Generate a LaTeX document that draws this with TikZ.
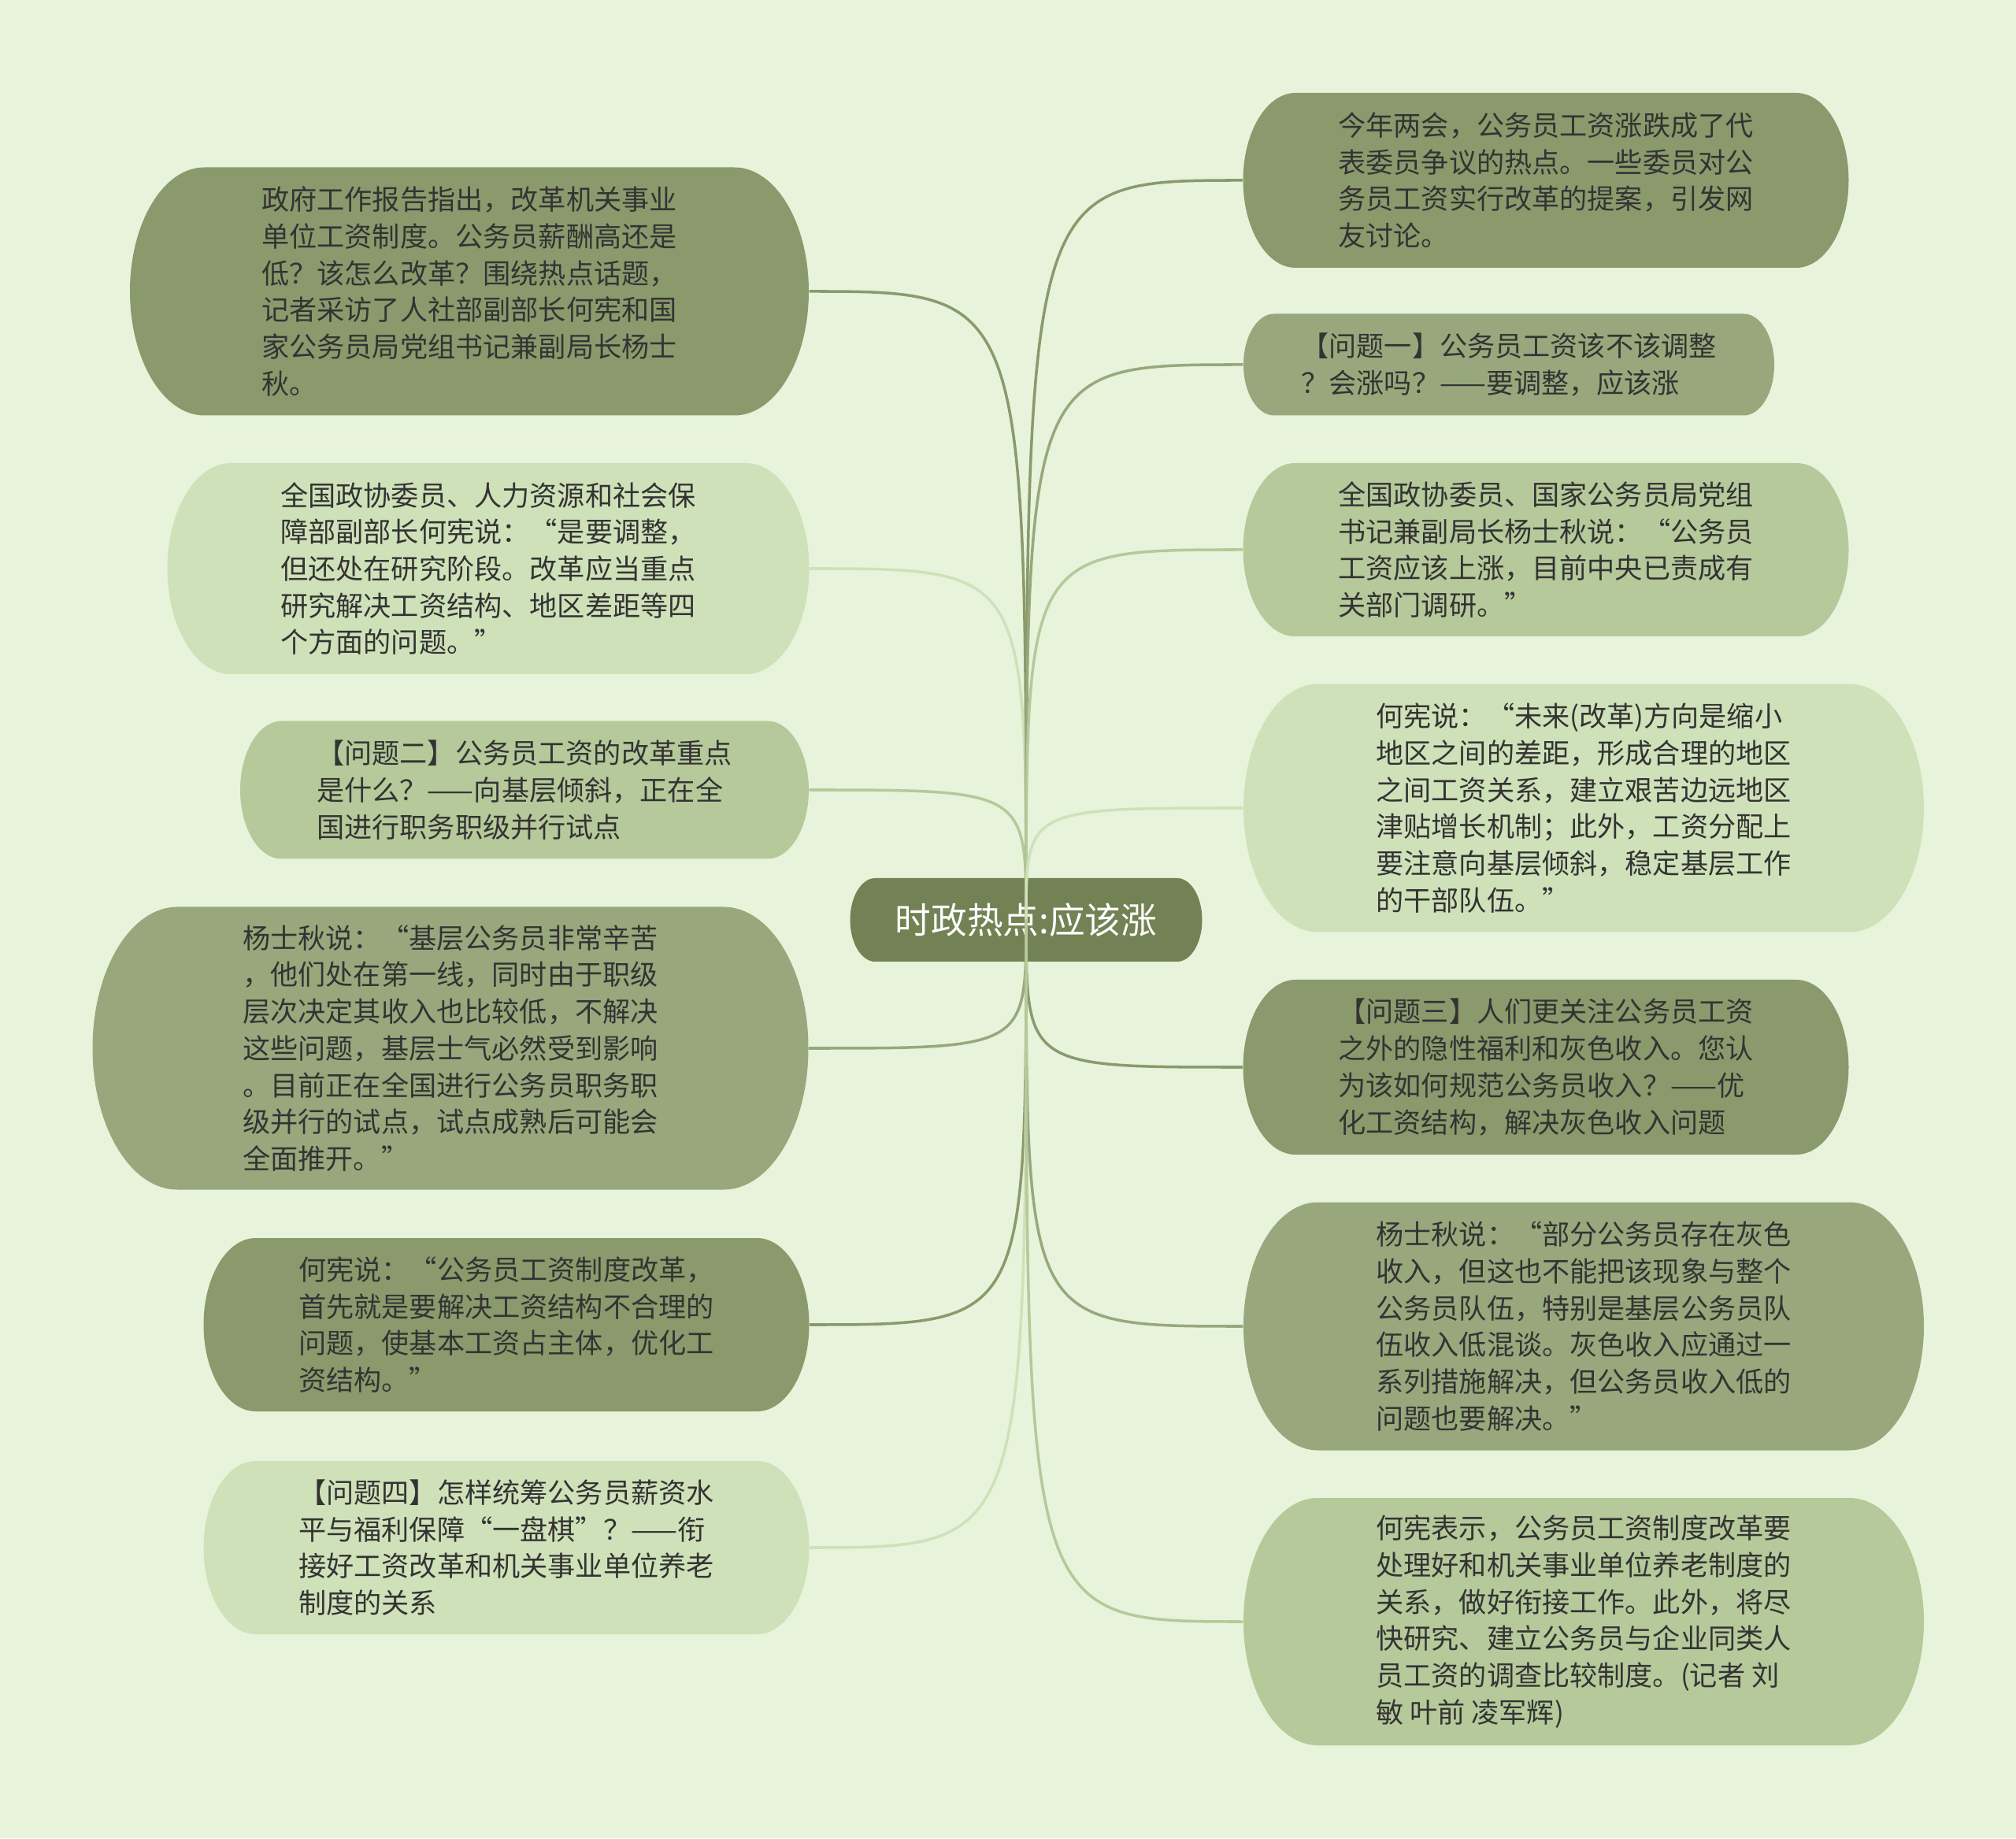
\documentclass[tikz,border=0pt]{standalone}
\usepackage{fontspec}
\newfontfamily\cjk{Noto Sans CJK SC}
\usepackage{tikz}
\usetikzlibrary{calc}

\definecolor{bgcol}{HTML}{E7F4DB}
\definecolor{rootcol}{HTML}{738254}
\definecolor{darkleaf}{HTML}{8A9A6C}
\definecolor{midleaf}{HTML}{98A87C}
\definecolor{softleaf}{HTML}{B5C99A}
\definecolor{paleleaf}{HTML}{CFE1B9}
\definecolor{ink}{HTML}{333333}

\begin{document}
\begin{tikzpicture}[
    pill/.style={path picture={
        \fill[#1] let \p1=(path picture bounding box.south west),
                      \p2=(path picture bounding box.north east),
                      \n1={(\y2-\y1)/2}, \n2={0.6*\n1} in
          (\x1+\n2,\y2) -- (\x2-\n2,\y2)
          arc[start angle=90,end angle=-90,x radius=\n2,y radius=\n1]
          -- (\x1+\n2,\y1)
          arc[start angle=270,end angle=90,x radius=\n2,y radius=\n1] -- cycle;}},
    dims/.style 2 args={minimum width=#1cm, minimum height=#2cm},
    leaf/.style={pill=#1, text=ink, align=left, inner sep=0pt,
        font=\cjk\fontsize{10pt}{13.3pt}\selectfont},
    link/.style={line width=1pt}
]
    % Canvas
    \fill[bgcol] (0,0) rectangle (25.6,23.34);
    \useasboundingbox (0,0) rectangle (25.6,23.34);

    % Left branches
    \node[leaf=darkleaf, dims={8.62}{3.15}] (L1) at (5.96,19.64) {政府工作报告指出，改革机关事业\\单位工资制度。公务员薪酬高还是\\低？该怎么改革？围绕热点话题，\\记者采访了人社部副部长何宪和国\\家公务员局党组书记兼副局长杨士\\秋。};
    \node[leaf=paleleaf, dims={8.15}{2.68}] (L2) at (6.20,16.12) {全国政协委员、人力资源和社会保\\障部副部长何宪说：“是要调整，\\但还处在研究阶段。改革应当重点\\研究解决工资结构、地区差距等四\\个方面的问题。”};
    \node[leaf=softleaf, dims={7.22}{1.75}] (L3) at (6.66,13.31) {【问题二】公务员工资的改革重点\\是什么？——向基层倾斜，正在全\\国进行职务职级并行试点};
    \node[leaf=midleaf, dims={9.09}{3.59}] (L4) at (5.72,10.03) {杨士秋说：“基层公务员非常辛苦\\，他们处在第一线，同时由于职级\\层次决定其收入也比较低，不解决\\这些问题，基层士气必然受到影响\\。目前正在全国进行公务员职务职\\级并行的试点，试点成熟后可能会\\全面推开。”};
    \node[leaf=darkleaf, dims={7.69}{2.20}] (L5) at (6.43,6.52) {何宪说：“公务员工资制度改革，\\首先就是要解决工资结构不合理的\\问题，使基本工资占主体，优化工\\资结构。”};
    \node[leaf=paleleaf, dims={7.69}{2.20}] (L6) at (6.43,3.69) {【问题四】怎样统筹公务员薪资水\\平与福利保障“一盘棋”？——衔\\接好工资改革和机关事业单位养老\\制度的关系};

    % Right branches
    \node[leaf=darkleaf, dims={7.69}{2.22}] (R1) at (19.63,21.05) {今年两会，公务员工资涨跌成了代\\表委员争议的热点。一些委员对公\\务员工资实行改革的提案，引发网\\友讨论。};
    \node[leaf=midleaf, dims={6.74}{1.29}] (R2) at (19.16,18.71) {【问题一】公务员工资该不该调整\\？会涨吗？——要调整，应该涨};
    \node[leaf=softleaf, dims={7.69}{2.20}] (R3) at (19.63,16.36) {全国政协委员、国家公务员局党组\\书记兼副局长杨士秋说：“公务员\\工资应该上涨，目前中央已责成有\\关部门调研。”};
    \node[leaf=paleleaf, dims={8.64}{3.15}] (R4) at (20.11,13.08) {何宪说：“未来(改革)方向是缩小\\地区之间的差距，形成合理的地区\\之间工资关系，建立艰苦边远地区\\津贴增长机制；此外，工资分配上\\要注意向基层倾斜，稳定基层工作\\的干部队伍。”};
    \node[leaf=darkleaf, dims={7.69}{2.22}] (R5) at (19.63,9.79) {【问题三】人们更关注公务员工资\\之外的隐性福利和灰色收入。您认\\为该如何规范公务员收入？——优\\化工资结构，解决灰色收入问题};
    \node[leaf=midleaf, dims={8.64}{3.15}] (R6) at (20.11,6.50) {杨士秋说：“部分公务员存在灰色\\收入，但这也不能把该现象与整个\\公务员队伍，特别是基层公务员队\\伍收入低混谈。灰色收入应通过一\\系列措施解决，但公务员收入低的\\问题也要解决。”};
    \node[leaf=softleaf, dims={8.64}{3.14}] (R7) at (20.11,2.75) {何宪表示，公务员工资制度改革要\\处理好和机关事业单位养老制度的\\关系，做好衔接工作。此外，将尽\\快研究、建立公务员与企业同类人\\员工资的调查比较制度。(记者 刘\\敏 叶前 凌军辉)};

    % Root topic
    \node[pill=rootcol, dims={4.47}{1.06}, text=white,
        font=\cjk\fontsize{13pt}{15pt}\selectfont] (root) at (13.03,11.66) {时政热点:应该涨};

    % Links, drawn over the root
    \draw[link, darkleaf] (root.center) .. controls (root.center |- L1.east) .. (L1.east);
    \draw[link, paleleaf] (root.center) .. controls (root.center |- L2.east) .. (L2.east);
    \draw[link, softleaf] (root.center) .. controls (root.center |- L3.east) .. (L3.east);
    \draw[link, midleaf] (root.center) .. controls (root.center |- L4.east) .. (L4.east);
    \draw[link, darkleaf] (root.center) .. controls (root.center |- L5.east) .. (L5.east);
    \draw[link, paleleaf] (root.center) .. controls (root.center |- L6.east) .. (L6.east);
    \draw[link, darkleaf] (root.center) .. controls (root.center |- R1.west) .. (R1.west);
    \draw[link, midleaf] (root.center) .. controls (root.center |- R2.west) .. (R2.west);
    \draw[link, softleaf] (root.center) .. controls (root.center |- R3.west) .. (R3.west);
    \draw[link, paleleaf] (root.center) .. controls (root.center |- R4.west) .. (R4.west);
    \draw[link, darkleaf] (root.center) .. controls (root.center |- R5.west) .. (R5.west);
    \draw[link, midleaf] (root.center) .. controls (root.center |- R6.west) .. (R6.west);
    \draw[link, softleaf] (root.center) .. controls (root.center |- R7.west) .. (R7.west);
\end{tikzpicture}
\end{document}
